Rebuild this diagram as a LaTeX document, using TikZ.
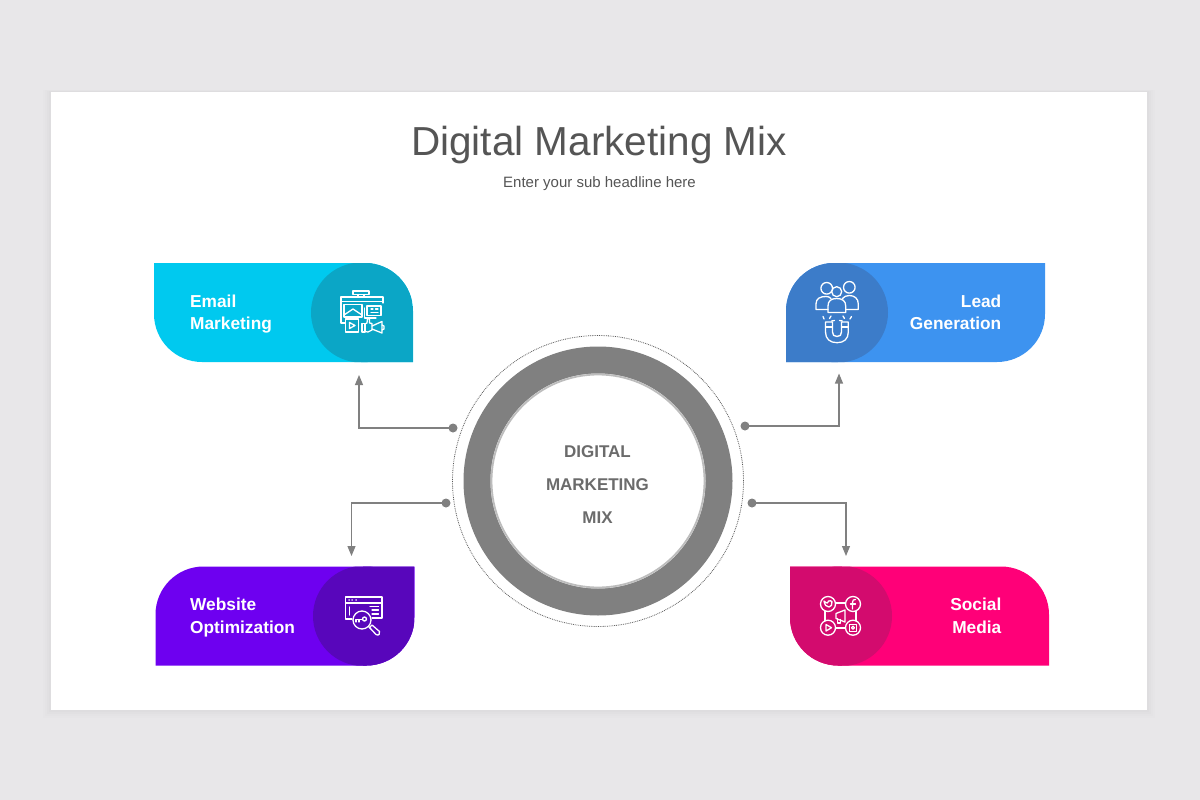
\documentclass[tikz,border=0pt]{standalone}
\usepackage{fontspec}
\setmainfont{Liberation Sans}
\usetikzlibrary{arrows.meta}
\definecolor{pagebg}{HTML}{E8E7E9}
\definecolor{inktitle}{HTML}{555555}
\definecolor{ringgray}{HTML}{808080}
\definecolor{ringedge}{HTML}{BDBDBD}
\definecolor{conngray}{HTML}{808080}
\definecolor{centertxt}{HTML}{6B6B6B}
\definecolor{cyanA}{HTML}{00C9EF}\definecolor{cyanB}{HTML}{0BA6C6}
\definecolor{blueA}{HTML}{3D93F0}\definecolor{blueB}{HTML}{3C7CC9}
\definecolor{violetA}{HTML}{6E00F0}\definecolor{violetB}{HTML}{5806BB}
\definecolor{pinkA}{HTML}{FF0078}\definecolor{pinkB}{HTML}{D30B6E}
\tikzset{
  cardtext/.style={text=white,font=\fontsize{17.3}{22.5}\selectfont\bfseries,inner sep=0pt},
  conn/.style={draw=conngray,line width=1.1pt,-{Triangle[width=8pt,length=10pt]}},
  conndot/.style={circle,fill=conngray,minimum size=9pt,inner sep=0pt},
  iconline/.style={draw=white,line width=1.3pt,line join=round,line cap=round,fill=none},
  centerline/.style={text=centertxt,font=\fontsize{17}{20}\selectfont\bfseries,inner sep=0pt},
}
% card outline: width 259, height 99, top-left and bottom-right corners rounded
\newcommand{\cardoutline}{(48,0) -- (259,0) -- (259,51) .. controls (259,77.5) and (237.5,99) .. (211,99) -- (0,99) -- (0,48) .. controls (0,21.5) and (21.5,0) .. (48,0) -- cycle}
% #1 x of the card's anchor, #2 y, #3 xscale, #4 colour, #5 dark colour, #6 local x of circle centre, #7 local x of the card side behind the circle
\newcommand{\carddraw}[7]{%
  \begin{scope}[shift={(#1,#2)},xscale=#3]
    \fill[#4] \cardoutline;
    \clip \cardoutline;
    \fill[#5] (#6,49.5) circle (50pt);
    \fill[#5] (#6,-1) rectangle (#7,100);
  \end{scope}}
\begin{document}
\begin{tikzpicture}[x=1pt,y=-1pt]
\useasboundingbox (0,0) rectangle (1200,800);
\fill[pagebg] (0,0) rectangle (1200,800);
% slide panel with soft shadow
\foreach \d/\o in {8/0.006,6/0.008,4/0.01,2/0.012}{
  \fill[black,opacity=\o] (51-\d,92-\d*0.3) rectangle (1147+\d,710+\d);
}
\fill[white] (51,92) rectangle (1147,710);
% titles
\node[text=inktitle,font=\fontsize{40.5}{44}\selectfont,inner sep=0pt] (title) at (599,145.5) {Digital Marketing Mix};
\node[text=inktitle,font=\fontsize{15}{18}\selectfont,inner sep=0pt] (subtitle) at (599.5,184) {Enter your sub headline here};
% cards
\carddraw{413}{263}{-1}{cyanA}{cyanB}{52}{0}
\carddraw{786}{263}{1}{blueA}{blueB}{52}{0}
\carddraw{155.5}{566.5}{1}{violetA}{violetB}{207.5}{259}
\carddraw{1049}{566.5}{-1}{pinkA}{pinkB}{207}{259}
\node[cardtext,anchor=west,align=left] (email) at (190,314.3) {Email\\Marketing};
\node[cardtext,anchor=east,align=right] (lead) at (1001.5,312.5) {Lead\\Generation};
\node[cardtext,anchor=west,align=left] (website) at (190,617.6) {Website\\Optimization};
\node[cardtext,anchor=east,align=right] (social) at (1001.5,616) {Social\\Media};
% central ring
\fill[ringgray] (598,481) circle (134.5pt);
\fill[white] (598,481) circle (107.5pt);
\draw[ringedge,line width=1.8pt] (598,481) circle (106.5pt);
\draw[black!65,line width=0.8pt,densely dotted] (598,481) circle (145.5pt);
\node[centerline] (c1) at (597.5,452) {DIGITAL};
\node[centerline] (c2) at (597.5,485) {MARKETING};
\node[centerline] (c3) at (597.5,518) {MIX};
% connectors
\node[conndot] (d1) at (453,428) {};
\node[conndot] (d2) at (446,503) {};
\node[conndot] (d3) at (745,426) {};
\node[conndot] (d4) at (752,503) {};
\coordinate (t1) at (359,375);
\coordinate (t2) at (351.5,556);
\coordinate (t3) at (839,373.5);
\coordinate (t4) at (846,556);
\draw[conn] (d1.center) -| (t1);
\draw[conn] (d2.center) -| (t2);
\draw[conn] (d3.center) -| (t3);
\draw[conn] (d4.center) -| (t4);
% icon: email marketing
\begin{scope}[iconline]
  \draw (353,291) rectangle (369,294.5);
  \draw (358,294.5) -- (358,297) (364,294.5) -- (364,297);
  \draw (345,323) -- (341,323) -- (341,297) -- (383,297) -- (383,303);
  \draw (341,301.5) -- (383,301.5);
  \draw (344,304.5) rectangle (362,317);
  \draw (344,315) -- (353,309) -- (362,315);
  \draw (367,306) rectangle (381,315.5);
  \draw (364.5,308) -- (364.5,318) -- (376,318);
  \draw (371,309) -- (373,309) (375.5,309) -- (378,309) (371,312.5) -- (378,312.5);
  \draw (345.5,319) rectangle (358.5,332);
  \draw (349.5,322.5) -- (355,325.5) -- (349.5,328.5) -- cycle;
  \draw (362,323.5) rectangle (365,332);
  \draw (365,324) -- (367,323) -- (367.5,318.5) -- (369.5,319) -- (369.5,323) -- (372,323.5) -- (372,330) -- (368,332) -- (365,331.5);
  \draw (372,326) -- (382,321.5) -- (382,333) -- (372,329);
  \draw (382,325) -- (384,326) -- (384,329) -- (382,330);
\end{scope}
% icon: lead generation
\begin{scope}[iconline]
  \draw (826.7,288.3) circle (5.8pt);
  \draw (849.3,287.3) circle (5.8pt);
  \draw (836.7,291.7) circle (5pt);
  \draw (828,309.5) -- (816,309.5) -- (816,304) .. controls (816,298.5) and (820,296.5) .. (826,296.5) .. controls (828,296.5) and (830,297) .. (831,298.5);
  \draw (845.7,309.5) -- (858.3,309.5) -- (858.3,304) .. controls (858.3,298.5) and (854.5,295.5) .. (849.3,295.5) .. controls (846.5,295.5) and (844,296.5) .. (842.5,298.5);
  \draw (828,312.5) -- (828,306) .. controls (828,301) and (831,298.5) .. (836.7,298.5) .. controls (842.5,298.5) and (845.7,301) .. (845.7,306) -- (845.7,312.5) -- cycle;
  \draw (825.5,322) -- (825.5,332) .. controls (825.5,339) and (830,342.7) .. (837,342.7) .. controls (844,342.7) and (848.3,339) .. (848.3,332) -- (848.3,322) -- (841.5,322) -- (841.5,332) .. controls (841.5,335) and (840,336.5) .. (837,336.5) .. controls (834,336.5) and (832.5,335) .. (832.5,332) -- (832.5,322) -- cycle;
  \draw (825.5,327) -- (832.5,327) (841.5,327) -- (848.3,327);
  \draw (824,319) -- (823,316.5) (829.5,318.5) -- (831,316) (834.5,320.5) -- (831.5,321);
  \draw (839.5,320.5) -- (842.5,321) (844.5,318.5) -- (843,316) (850,319) -- (851.5,316.5);
\end{scope}
% icon: website optimization
\begin{scope}[iconline]
  \draw (352,619) -- (345.5,619) -- (345.5,597) -- (382,597) -- (382,618) -- (372,618);
  \draw (345.5,603) -- (382,603);
  \draw (349,600) -- (349.1,600) (352,600) -- (352.1,600) (356,600) -- (356.1,600);
  \draw (349.5,607) -- (349.5,615) (370,606.5) -- (378.5,606.5) (372,610) -- (378.5,610) (372,614) -- (378.5,614);
  \draw (362,620) circle (9pt);
  \draw (368.5,626.5) -- (370.5,628.5);
  \draw (369.5,627.5) -- (372,625) -- (379.5,631.5) .. controls (380.5,634) and (378.5,636) .. (376,634.5) -- cycle;
  \draw (364.5,619) circle (2pt);
  \draw (362.5,619.5) -- (356,619.5) -- (356,622) (359,619.5) -- (359,622);
\end{scope}
% icon: social media
\begin{scope}[iconline]
  \draw (828,604) circle (7.5pt);
  \draw (853,604) circle (7.5pt);
  \draw (828,627.7) circle (7.5pt);
  \draw (853,627.7) circle (7.5pt);
  \draw (835.5,603) -- (845.5,603) (835.5,628) -- (845.5,628);
  \draw (825,611) -- (825,621) (856,611) -- (856,621);
  \draw (824,601) .. controls (824.5,605) and (826.5,607) .. (829,607) .. controls (831,607) and (832.5,604.5) .. (832,601.5) -- (830.5,600.8) .. controls (829,600) and (827.5,601.5) .. (827.5,603) .. controls (826.5,603) and (825,602.5) .. (824,601);
  \draw (855.5,599.5) .. controls (853.5,599) and (852.5,600.5) .. (852.5,602.5) -- (852.5,609);
  \draw (850.5,604) -- (855.5,604);
  \draw (826,624.5) -- (831.5,627.7) -- (826,631) -- cycle;
  \draw (849.5,624.2) rectangle (856.5,631.2);
  \draw (853,627.7) circle (1.5pt);
  \draw (836,613.5) -- (845,610) -- (845,622) -- (836,618.5) -- cycle;
  \draw (837.5,618.5) -- (837.5,623) -- (840.5,623) -- (840.5,619.5);
\end{scope}
\end{tikzpicture}
\end{document}
